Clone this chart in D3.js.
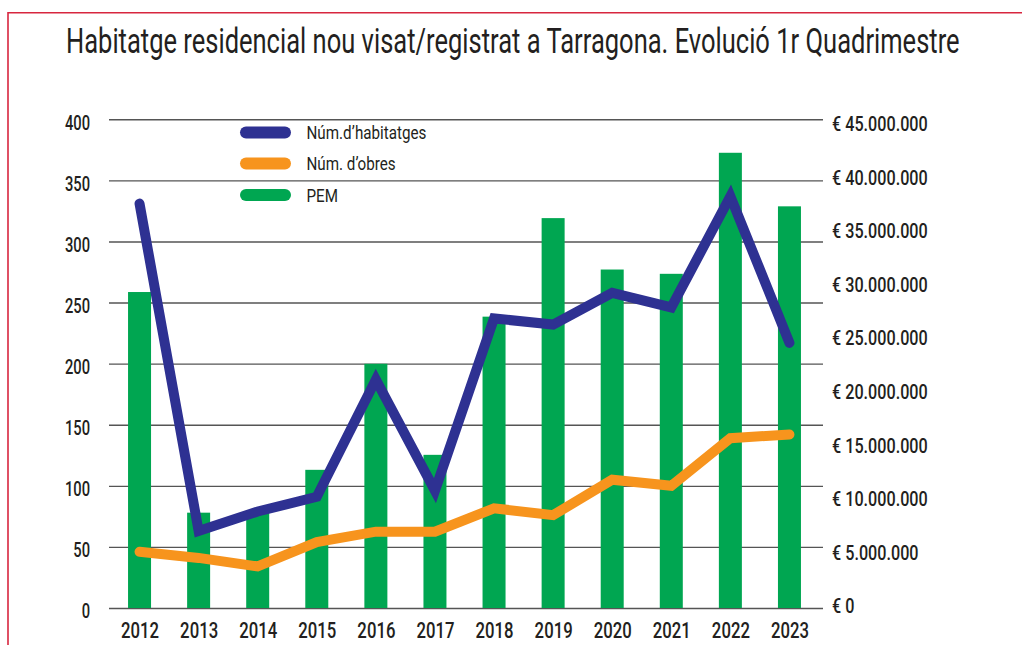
<!DOCTYPE html>
<html>
<head>
<meta charset="utf-8">
<script src="https://cdn.jsdelivr.net/npm/d3@7"></script>
<style>
  body { margin: 0; background: #fff; }
  svg text { font-family: Roboto, "Liberation Sans", sans-serif; fill: #231f20; }
</style>
</head>
<body>
<div id="chart"></div>
<script>
      var w = 1022;
      var h = 645;

      // data
      var years = ['2012','2013','2014','2015','2016','2017','2018','2019','2020','2021','2022','2023'];
      var numHabitatges = [331, 63, 79, 91, 187, 96, 237, 232, 258, 246, 337, 217];
      var numObres = [46, 41, 34, 54, 62.5, 62.5, 81.6, 76, 105, 100, 139, 142];
      var pem = [29.5e6, 8.9e6, 9.0e6, 12.9e6, 22.8e6, 14.3e6, 27.2e6, 36.4e6, 31.6e6, 31.2e6, 42.5e6, 37.5e6];
      var leftTicks = [0, 50, 100, 150, 200, 250, 300, 350, 400];
      var rightTicks = [0, 5e6, 10e6, 15e6, 20e6, 25e6, 30e6, 35e6, 40e6, 45e6];
      var legendLabels = ['Núm.d\u2019habitatges', 'Núm. d\u2019obres', 'PEM'];
      var colors = ['#2e3192', '#f7941d', '#00a651'];
      var title = 'Habitatge residencial nou visat/registrat a Tarragona. Evolució 1r Quadrimestre';

      var euro = d3.formatLocale({decimal: ',', thousands: '.', grouping: [3], currency: ['€ ', '']}).format('$,');

      var x = d3.scalePoint().domain(years).range([110, 819]).padding(0.5);
      var yL = d3.scaleLinear().domain([0, 400]).range([608, 119.3]);
      var yR = d3.scaleLinear().domain([0, 45e6]).range([608, 126]);

      // squeeze text horizontally, the original uses a condensed face
      function squeeze(sel, k) {
        sel.each(function() {
          var len = this.getComputedTextLength();
          d3.select(this).attr('textLength', len * k).attr('lengthAdjust', 'spacingAndGlyphs');
        });
      }

      var svg = d3.select('#chart').append('svg')
            .attr('width', w)
            .attr('height', h);

      // red frame
      svg.append('path')
         .attr('d', 'M8,645V12.7H1022')
         .attr('fill', 'none')
         .attr('stroke', '#d7263f')
         .attr('stroke-width', 1.6);

      //Title (scaled on x so it fits like the condensed original)
      var titleG = svg.append('g');
      var titleT = titleG.append('text')
         .attr('font-size', 36)
         .attr('font-weight', 400)
         .text(title);
      var tw = titleT.node().getComputedTextLength();
      titleG.attr('transform', 'translate(66,52.7) scale(' + (894 / tw) + ',1)');

      //Left axis + gridlines
      var gL = svg.append('g')
         .attr('transform', 'translate(109,0)')
         .call(d3.axisLeft(yL).tickValues(leftTicks).tickSize(-714).tickPadding(19));
      gL.select('.domain').remove();
      gL.selectAll('line').attr('stroke', '#555').attr('stroke-width', 1.4);
      gL.selectAll('text').attr('font-size', 21).attr('font-weight', 500).attr('y', 3).attr('fill', '#231f20');
      squeeze(gL.selectAll('text'), 0.7);

      //Right axis (labels only)
      var gR = svg.append('g')
         .attr('transform', 'translate(823,0)')
         .call(d3.axisRight(yR).tickValues(rightTicks).tickSize(0).tickPadding(9).tickFormat(euro));
      gR.select('.domain').remove();
      gR.selectAll('text').attr('font-size', 21).attr('font-weight', 500).attr('y', -2).attr('fill', '#231f20');
      squeeze(gR.selectAll('text'), 0.77);

      //Bottom axis (years)
      var gB = svg.append('g')
         .attr('transform', 'translate(0,608)')
         .call(d3.axisBottom(x).tickSize(0).tickPadding(14));
      gB.select('.domain').remove();
      gB.selectAll('text').attr('font-size', 22).attr('font-weight', 500).attr('fill', '#231f20');
      squeeze(gB.selectAll('text'), 0.76);

      //Bars
      var barW = 23;
      svg.append('g').selectAll('rect')
         .data(pem)
         .enter()
         .append('rect')
         .attr('x', function(d, i) { return x(years[i]) - barW / 2; })
         .attr('y', function(d) { return yR(d); })
         .attr('width', barW)
         .attr('height', function(d) { return yR(0) - yR(d); })
         .attr('fill', colors[2]);

      //Lines
      var line = d3.line()
         .x(function(d, i) { return x(years[i]); })
         .y(function(d) { return yL(d); });

      [[numObres, colors[1]], [numHabitatges, colors[0]]].forEach(function(s) {
        svg.append('path')
           .datum(s[0])
           .attr('d', line)
           .attr('fill', 'none')
           .attr('stroke', s[1])
           .attr('stroke-width', 10)
           .attr('stroke-linejoin', 'miter')
           .attr('stroke-linecap', 'round');
      });

      //Legend
      var legendY = [132.5, 163.5, 195];
      var lg = svg.append('g').selectAll('g')
         .data(legendLabels)
         .enter()
         .append('g')
         .attr('transform', function(d, i) { return 'translate(0,' + legendY[i] + ')'; });
      lg.append('line')
         .attr('x1', 246).attr('x2', 285)
         .attr('stroke', function(d, i) { return colors[i]; })
         .attr('stroke-width', 12)
         .attr('stroke-linecap', 'round');
      lg.append('text')
         .attr('x', 306.5)
         .attr('dy', '0.35em')
         .attr('font-size', 19)
         .attr('fill', '#414042')
         .text(function(d) { return d; });
      squeeze(lg.selectAll('text'), 0.8);
</script>
</body>
</html>
